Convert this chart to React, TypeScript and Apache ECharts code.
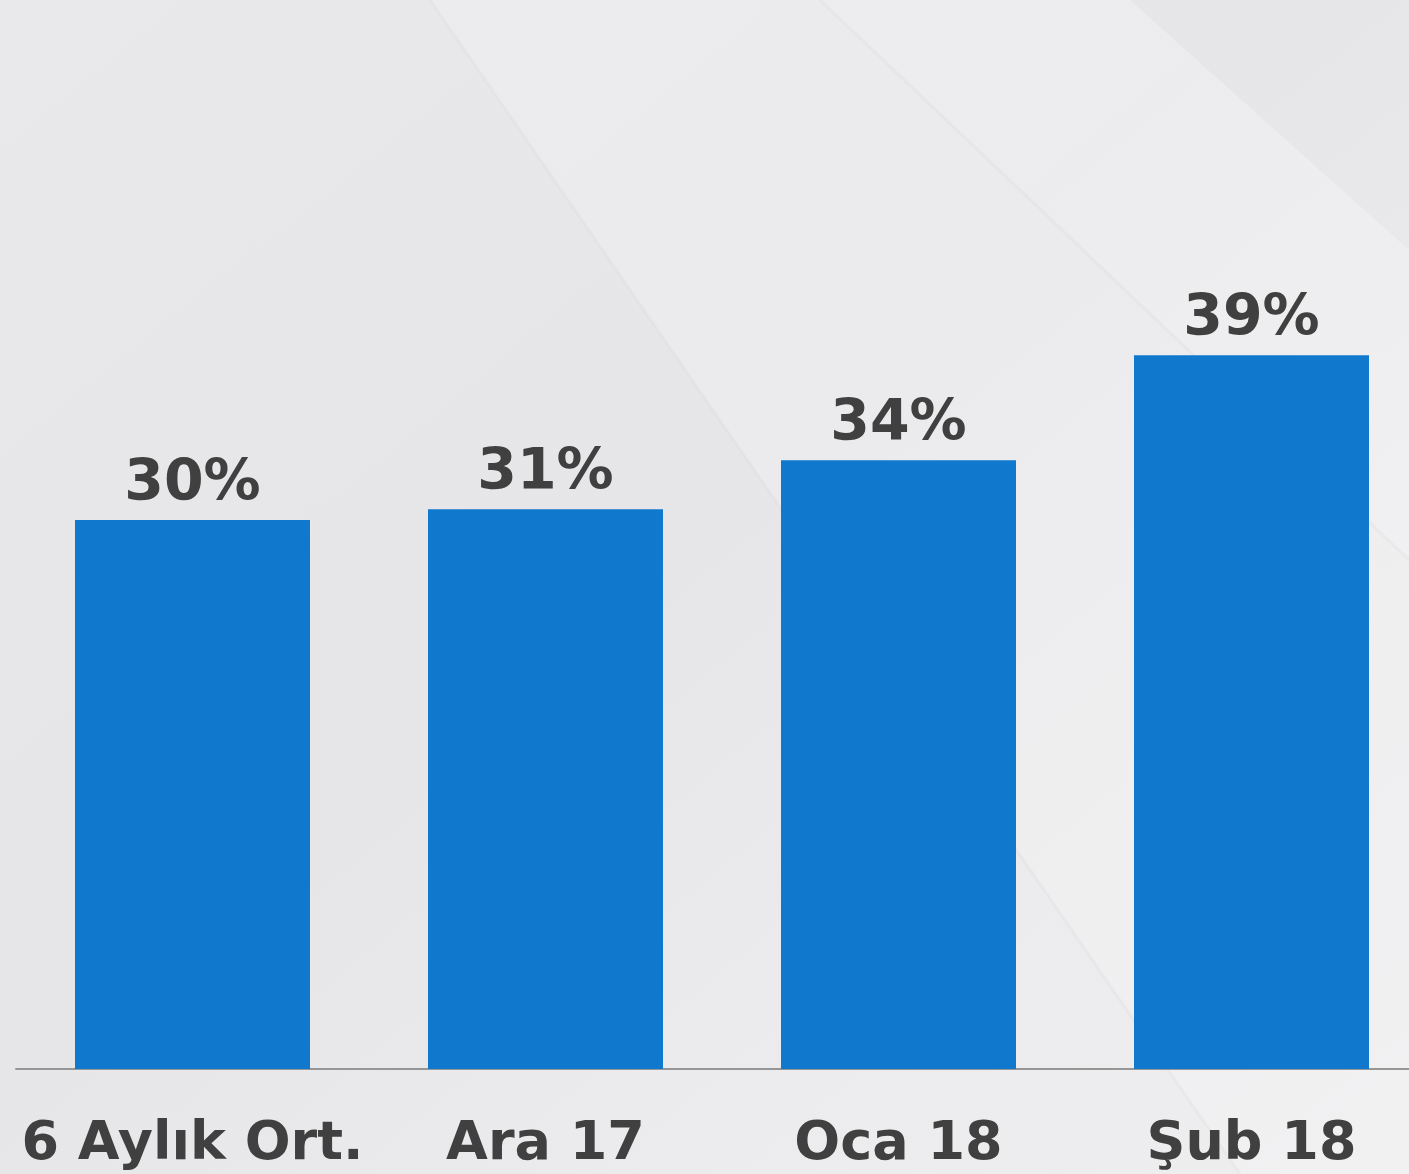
import React, { useEffect, useRef } from "react";
import * as echarts from "echarts";

const categories = ["6 Aylık Ort.", "Ara 17", "Oca 18", "Şub 18"];
const values = [30.3, 30.9, 33.6, 39.4];

export default function App() {
  const ref = useRef<HTMLDivElement>(null);
  useEffect(() => {
    if (!ref.current) return;
    const chart = echarts.init(ref.current, null, { renderer: "svg" });
    chart.setOption({
      animation: false,
      backgroundColor: {
        type: "linear",
        x: 0,
        y: 0,
        x2: 1,
        y2: 1,
        colorStops: [
          { offset: 0, color: "#e9e9eb" },
          { offset: 0.45, color: "#e6e6e9" },
          { offset: 0.75, color: "#ecebed" },
          { offset: 1, color: "#efeeef" },
        ],
      },
      graphic: [
        {
          type: "polygon",
          silent: true,
          shape: { points: [[430, 0], [820, 0], [1409, 560], [1409, 1174], [1240, 1174]] },
          style: { fill: "rgba(255,255,255,0.2)" },
        },
        {
          type: "polygon",
          silent: true,
          shape: { points: [[820, 0], [1130, 0], [1409, 250], [1409, 560]] },
          style: { fill: "rgba(255,255,255,0.25)" },
        },
        {
          type: "line",
          silent: true,
          shape: { x1: 430, y1: 0, x2: 1240, y2: 1174 },
          style: { stroke: "rgba(215,215,218,0.25)", lineWidth: 3 },
        },
        {
          type: "line",
          silent: true,
          shape: { x1: 820, y1: 0, x2: 1409, y2: 560 },
          style: { stroke: "rgba(215,215,218,0.25)", lineWidth: 3 },
        },
      ],
      grid: { left: 16, right: 0, top: 0, bottom: 105, containLabel: false },
      xAxis: {
        type: "category",
        data: categories,
        axisLine: { show: true, lineStyle: { color: "#969696", width: 2 } },
        axisTick: { show: false },
        axisLabel: {
          color: "#404040",
          fontFamily: "DejaVu Sans",
          fontWeight: "bold",
          fontSize: 54,
          margin: 44,
          interval: 0,
        },
      },
      yAxis: {
        type: "value",
        min: 0,
        max: 59,
        show: false,
        splitLine: { show: false },
      },
      series: [
        {
          type: "bar",
          data: values,
          barWidth: 235,
          itemStyle: { color: "#1079ce" },
          label: {
            show: true,
            position: "top",
            distance: 12,
            color: "#404040",
            fontFamily: "DejaVu Sans",
            fontWeight: "bold",
            fontSize: 57,
            formatter: (p: any) => Math.round(p.value) + "%",
          },
        },
      ],
    });
    return () => chart.dispose();
  }, []);
  return (
    <div style={{ position: "absolute", left: 0, top: 0, width: 1409, height: 1174, overflow: "hidden" }}>
      <div ref={ref} style={{ width: 1428, height: 1174 }} />
    </div>
  );
}
